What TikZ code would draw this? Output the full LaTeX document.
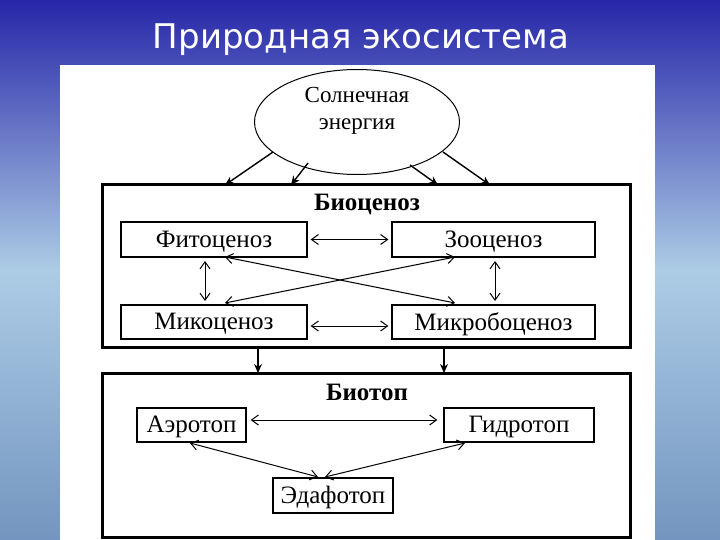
\documentclass[tikz,border=0pt]{standalone}
\usepackage{fontspec}
\setmainfont{Liberation Serif}
\newfontfamily\titlefont{DejaVu Sans}
\usetikzlibrary{shapes.geometric,arrows.meta}
\begin{document}
\begin{tikzpicture}[x=1pt,y=-1pt,
  bx/.style={draw,line width=1.2pt,inner sep=0pt,text depth=1pt,font=\fontsize{25}{27}\selectfont},
  big/.style={draw,line width=3pt},
  ar/.style={-{Stealth[length=9pt,width=8pt]},line width=1.4pt},
  dar/.style={{Straight Barb[length=7pt,width=10pt]}-{Straight Barb[length=7pt,width=10pt]},line width=1pt}]
\useasboundingbox (0,0) rectangle (720,540);
\shade[top color=blue!60!black!85,bottom color=blue!55!cyan!40!white!75!black,middle color=blue!45!cyan!25!white!90!black] (0,0) rectangle (720,540);
\node[font=\titlefont\fontsize{34}{36}\selectfont,text=white] (title) at (361,40) {Природная экосистема};
\fill[white] (60,65) rectangle (655,540);
\node[draw,ellipse,line width=1pt,minimum width=205pt,minimum height=105pt] (sun) at (357,122) {};
\node[font=\fontsize{23}{27}\selectfont,align=center] (suntxt) at (357,111) {Солнечная\\энергия};
\draw[big] (102,185) rectangle (630,347);
\coordinate (b1) at (225,185); \coordinate (b2) at (291,185);
\coordinate (b3) at (438,185); \coordinate (b4) at (490,185);
\coordinate (s1) at (273,152); \coordinate (s2) at (308,163);
\coordinate (s3) at (410,165); \coordinate (s4) at (443,152);
\draw[ar] (s1)--(b1); \draw[ar] (s2)--(b2); \draw[ar] (s3)--(b3); \draw[ar] (s4)--(b4);
\node[font=\bfseries\fontsize{25}{27}\selectfont] (bio) at (367,204) {Биоценоз};
\node[bx,minimum width=186pt,minimum height=35pt] (fit) at (214,239.5) {Фитоценоз};
\node[bx,minimum width=203pt,minimum height=35pt] (zoo) at (493.5,239.5) {Зооценоз};
\node[bx,minimum width=186pt,minimum height=34pt] (mik) at (214,322) {Микоценоз};
\node[bx,minimum width=203pt,minimum height=34pt] (mikr) at (493.5,322) {Микробоценоз};
\draw[dar] ([xshift=3pt]fit.east) -- ([xshift=-3pt]zoo.west);
\draw[dar] ([xshift=3pt,yshift=-4pt]mik.east) -- ([xshift=-3pt,yshift=-4pt]mikr.west);
\coordinate (v1) at (205,261); \coordinate (v2) at (205,301);
\coordinate (v3) at (495,261); \coordinate (v4) at (495,301);
\draw[dar] (v1)--(v2); \draw[dar] (v3)--(v4);
\coordinate (d1) at (225,257); \coordinate (d2) at (455,303);
\coordinate (d3) at (455,257); \coordinate (d4) at (225,303);
\draw[dar] (d1)--(d2); \draw[dar] (d3)--(d4);
\draw[big] (102,373) rectangle (630,537);
\coordinate (u1) at (258,347); \coordinate (u2) at (444,347);
\draw[ar] (u1)--(258,373); \draw[ar] (u2)--(444,373);
\node[font=\bfseries\fontsize{25}{27}\selectfont] (biot) at (367,392) {Биотоп};
\node[bx,minimum width=109pt,minimum height=34pt] (aer) at (191.5,425) {Аэротоп};
\node[bx,minimum width=150pt,minimum height=34pt] (gid) at (519,425) {Гидротоп};
\node[bx,minimum width=120pt,minimum height=35pt] (eda) at (333,495.5) {Эдафотоп};
\draw[dar] ([xshift=4pt,yshift=5pt]aer.east) -- ([xshift=-6pt,yshift=5pt]gid.west);
\coordinate (e1) at (190,443); \coordinate (e2) at (318,477);
\coordinate (e3) at (325,477); \coordinate (e4) at (465,443);
\draw[dar] (e1)--(e2); \draw[dar] (e3)--(e4);
\end{tikzpicture}
\end{document}
